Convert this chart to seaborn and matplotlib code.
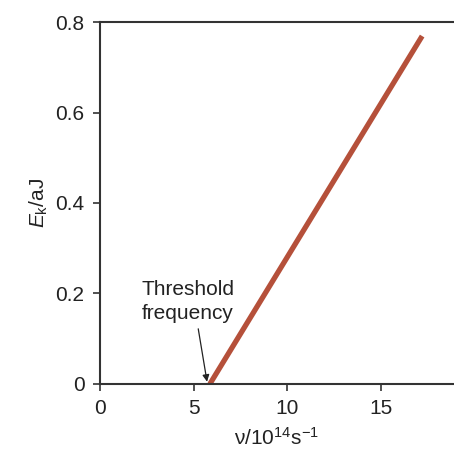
import numpy as np
import pandas as pd
import seaborn as sns
import matplotlib.pyplot as plt

# Data
freq = [5.87, 17.2]        # nu / 10^14 s^-1
energy = [0.0, 0.769]      # E_k / aJ
x_ticks = [0, 5, 10, 15]
y_ticks = [0, 0.2, 0.4, 0.6, 0.8]
y_tick_labels = ["0", "0.2", "0.4", "0.6", "0.8"]

sns.set_style("white")
plt.rcParams['font.family'] = ['Liberation Sans', 'DejaVu Sans']
plt.rcParams['mathtext.fontset'] = 'custom'
plt.rcParams['mathtext.rm'] = 'Liberation Sans'
plt.rcParams['mathtext.it'] = 'Liberation Sans:italic'

df = pd.DataFrame({"freq": freq, "energy": energy})

fig = plt.figure(figsize=(4.54, 4.51), dpi=100)
ax = fig.add_axes([0.220, 0.1486, 0.780, 0.8026])

sns.lineplot(data=df, x="freq", y="energy", ax=ax, color="#B5503A",
             linewidth=3.8, solid_capstyle="butt")

ax.set_xlim(0, 18.9)
ax.set_ylim(0, 0.8)
ax.set_xticks(x_ticks)
ax.set_yticks(y_ticks)
ax.set_yticklabels(y_tick_labels)

dark = "#333333"
for side in ["left", "top", "bottom"]:
    ax.spines[side].set_color(dark)
    ax.spines[side].set_linewidth(1.5)
ax.spines["right"].set_visible(False)

ax.tick_params(direction="out", length=5, width=1.2, color=dark,
               labelsize=15, labelcolor="#222222", pad=6,
               bottom=True, left=True)

ax.set_xlabel("ν/10$^{14}$s$^{-1}$", fontsize=15, color="#222222", labelpad=6)
ax.set_ylabel("$E_\\mathrm{k}$/aJ", fontsize=15, color="#222222", labelpad=4)

ax.annotate("Threshold\nfrequency", xy=(5.72, 0.005),
            xytext=(4.7, 0.183), ha="center", va="center",
            multialignment="center",
            fontsize=15, color="#222222", linespacing=1.35,
            arrowprops=dict(arrowstyle="-|>", color="#222222", lw=0.9,
                            shrinkA=2, shrinkB=0, mutation_scale=10,
                            relpos=(0.6, 0.0)))

fig.savefig("out.png", dpi=100)
